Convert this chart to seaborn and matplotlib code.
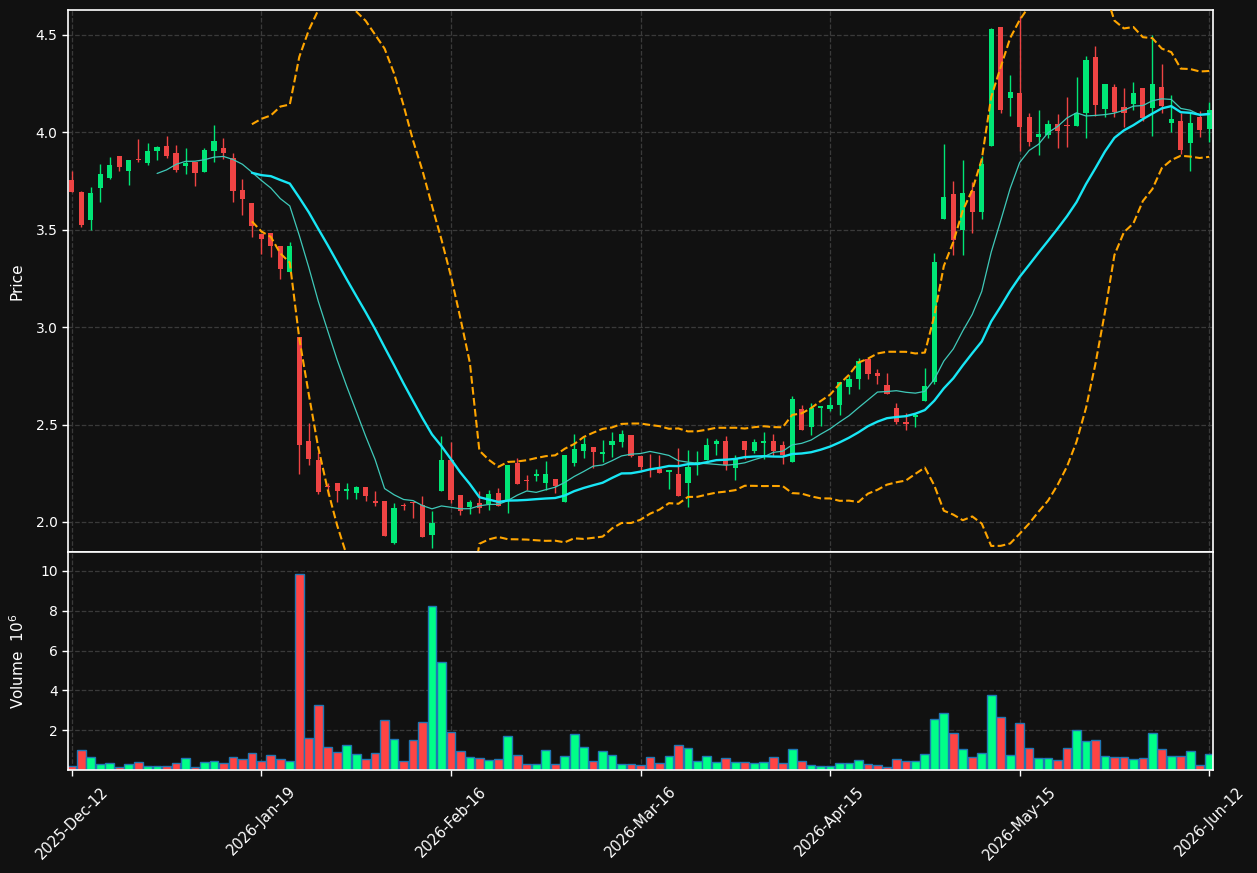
import numpy as np
import pandas as pd
import matplotlib
matplotlib.use("Agg")
import matplotlib.pyplot as plt
import seaborn as sns

# OHLC, one entry per trading bar
opens = [3.755, 3.693, 3.551, 3.714, 3.765, 3.878, 3.803, 3.863, 3.844, 3.906,
         3.930, 3.894, 3.829, 3.847, 3.798, 3.906, 3.919, 3.868, 3.703, 3.636,
         3.477, 3.485, 3.415, 3.283, 2.952, 2.417, 2.319, 2.183, 2.200, 2.161,
         2.147, 2.181, 2.110, 2.110, 1.894, 2.086, 2.104, 2.089, 1.935, 2.158,
         2.320, 2.140, 2.079, 2.099, 2.094, 2.151, 2.111, 2.301, 2.216, 2.238,
         2.199, 2.223, 2.101, 2.301, 2.363, 2.387, 2.351, 2.394, 2.409, 2.449,
         2.341, 2.295, 2.272, 2.255, 2.248, 2.198, 2.293, 2.317, 2.400, 2.414,
         2.276, 2.414, 2.362, 2.405, 2.414, 2.397, 2.307, 2.579, 2.488, 2.583,
         2.579, 2.603, 2.695, 2.736, 2.836, 2.766, 2.703, 2.584, 2.512, 2.538,
         2.621, 2.721, 3.557, 3.683, 3.498, 3.697, 3.593, 3.930, 4.542, 4.176,
         4.200, 4.078, 3.977, 3.986, 4.041, 4.036, 4.032, 4.100, 4.388, 4.120,
         4.233, 4.129, 4.144, 4.226, 4.123, 4.231, 4.048, 4.059, 3.946, 4.081,
         4.017]
highs = [3.803, 3.700, 3.720, 3.835, 3.871, 3.878, 3.858, 3.966, 3.945, 3.928,
         3.979, 3.935, 3.918, 3.847, 3.921, 4.038, 3.969, 3.892, 3.763, 3.636,
         3.477, 3.485, 3.415, 3.439, 2.952, 2.508, 2.358, 2.202, 2.200, 2.199,
         2.187, 2.181, 2.161, 2.110, 2.098, 2.098, 2.104, 2.134, 2.056, 2.440,
         2.411, 2.140, 2.111, 2.161, 2.163, 2.175, 2.295, 2.327, 2.241, 2.272,
         2.312, 2.223, 2.346, 2.454, 2.437, 2.387, 2.421, 2.462, 2.471, 2.449,
         2.341, 2.350, 2.345, 2.269, 2.378, 2.371, 2.366, 2.433, 2.424, 2.443,
         2.343, 2.414, 2.424, 2.464, 2.453, 2.414, 2.645, 2.603, 2.609, 2.595,
         2.641, 2.717, 2.752, 2.843, 2.836, 2.784, 2.764, 2.609, 2.562, 2.562,
         2.789, 3.383, 3.941, 3.752, 3.858, 3.745, 3.877, 4.538, 4.542, 4.295,
         4.599, 4.100, 4.116, 4.065, 4.096, 4.180, 4.286, 4.394, 4.445, 4.250,
         4.250, 4.226, 4.259, 4.226, 4.500, 4.352, 4.191, 4.100, 4.100, 4.109,
         4.156]
lows = [3.695, 3.516, 3.500, 3.640, 3.758, 3.800, 3.731, 3.846, 3.830, 3.856,
        3.866, 3.794, 3.784, 3.726, 3.798, 3.849, 3.863, 3.645, 3.578, 3.465,
        3.377, 3.362, 3.249, 3.283, 2.245, 2.295, 2.142, 2.137, 2.105, 2.117,
        2.120, 2.106, 2.080, 1.926, 1.887, 2.063, 2.021, 1.921, 1.866, 2.158,
        2.098, 2.034, 2.041, 2.046, 2.063, 2.080, 2.046, 2.197, 2.166, 2.209,
        2.166, 2.149, 2.101, 2.289, 2.329, 2.277, 2.307, 2.334, 2.385, 2.334,
        2.269, 2.231, 2.250, 2.169, 2.131, 2.079, 2.240, 2.317, 2.343, 2.269,
        2.216, 2.321, 2.355, 2.321, 2.338, 2.298, 2.307, 2.472, 2.447, 2.493,
        2.572, 2.550, 2.655, 2.681, 2.733, 2.707, 2.655, 2.503, 2.472, 2.487,
        2.621, 2.707, 3.557, 3.368, 3.368, 3.485, 3.557, 3.930, 4.100, 4.085,
        3.904, 3.928, 3.884, 3.973, 3.920, 3.926, 4.032, 3.972, 4.085, 4.078,
        4.081, 4.030, 4.116, 4.058, 3.983, 4.100, 4.000, 3.891, 3.803, 3.977,
        3.953]
closes = [3.695, 3.523, 3.688, 3.786, 3.832, 3.823, 3.858, 3.856, 3.904, 3.925,
          3.880, 3.806, 3.842, 3.792, 3.909, 3.955, 3.894, 3.700, 3.659, 3.520,
          3.455, 3.417, 3.298, 3.415, 2.393, 2.321, 2.156, 2.179, 2.161, 2.171,
          2.181, 2.132, 2.096, 1.926, 2.074, 2.080, 2.099, 1.921, 1.995, 2.320,
          2.111, 2.055, 2.104, 2.070, 2.146, 2.084, 2.295, 2.197, 2.211, 2.248,
          2.248, 2.183, 2.346, 2.377, 2.402, 2.358, 2.358, 2.418, 2.454, 2.337,
          2.281, 2.290, 2.250, 2.269, 2.131, 2.284, 2.307, 2.393, 2.414, 2.295,
          2.326, 2.369, 2.409, 2.414, 2.362, 2.345, 2.631, 2.472, 2.583, 2.595,
          2.603, 2.717, 2.733, 2.826, 2.762, 2.747, 2.659, 2.514, 2.502, 2.551,
          2.697, 3.334, 3.670, 3.447, 3.688, 3.593, 3.836, 4.533, 4.114, 4.209,
          4.028, 3.952, 3.990, 4.041, 4.005, 4.032, 4.100, 4.370, 4.142, 4.250,
          4.105, 4.100, 4.200, 4.072, 4.250, 4.133, 4.067, 3.909, 4.050, 4.010,
          4.116]
# volume in millions
volumes = [0.18, 0.98, 0.63, 0.28, 0.33, 0.13, 0.28, 0.38, 0.22, 0.22,
           0.22, 0.33, 0.58, 0.17, 0.38, 0.43, 0.33, 0.63, 0.53, 0.83,
           0.43, 0.73, 0.53, 0.43, 9.85, 1.63, 3.25, 1.18, 0.88, 1.28,
           0.78, 0.53, 0.83, 2.53, 1.58, 0.43, 1.53, 2.43, 8.23, 5.43,
           1.93, 0.93, 0.63, 0.58, 0.48, 0.53, 1.73, 0.73, 0.28, 0.28,
           0.98, 0.28, 0.68, 1.83, 1.18, 0.43, 0.93, 0.73, 0.28, 0.28,
           0.23, 0.63, 0.33, 0.68, 1.28, 1.13, 0.43, 0.68, 0.38, 0.58,
           0.38, 0.38, 0.33, 0.38, 0.63, 0.33, 1.03, 0.43, 0.23, 0.18,
           0.18, 0.33, 0.33, 0.48, 0.28, 0.23, 0.13, 0.53, 0.43, 0.43,
           0.78, 2.58, 2.88, 1.88, 1.08, 0.63, 0.83, 3.78, 2.68, 0.73,
           2.38, 1.13, 0.58, 0.58, 0.48, 1.13, 2.03, 1.48, 1.53, 0.68,
           0.63, 0.63, 0.53, 0.58, 1.88, 1.03, 0.68, 0.68, 0.93, 0.23,
           0.78]
tick_labels = ["2025-Dec-12", "2026-Jan-19", "2026-Feb-16", "2026-Mar-16",
               "2026-Apr-15", "2026-May-15", "2026-Jun-12"]

df = pd.DataFrame({"open": opens, "high": highs, "low": lows,
                   "close": closes, "volume": volumes})
df["idx"] = np.arange(len(df))
df["dir"] = np.where(df["close"] >= df["open"], "up", "down")
df["ma10"] = df["close"].rolling(10).mean()
df["ma20"] = df["close"].rolling(20).mean()
std20 = df["close"].rolling(20).std()
df["bb_up"] = df["ma20"] + 2 * std20
df["bb_lo"] = df["ma20"] - 2 * std20

bg = "#111111"
sns.set_theme(style="darkgrid", rc={
    "figure.facecolor": bg, "axes.facecolor": bg, "axes.edgecolor": "white",
    "axes.labelcolor": "white", "xtick.color": "white", "ytick.color": "white",
    "text.color": "white", "grid.color": "#3a3a3a", "grid.linestyle": "--",
    "grid.linewidth": 0.9, "axes.linewidth": 1.2,
    "xtick.bottom": True, "ytick.left": True,
})
plt.rcParams["font.family"] = ["DejaVu Sans"]

fig = plt.figure(figsize=(12.57, 8.73), dpi=100)
ax = fig.add_axes([0.0541, 0.3677, 0.9109, 0.62085])
axv = fig.add_axes([0.0541, 0.11798, 0.9109, 0.24971], sharex=ax)

candle_col = {"up": "#00e676", "down": "#ef4444"}
vol_col = {"up": "#00ff88", "down": "#ff4444"}
cols = df["dir"].map(candle_col)

# candles: wicks then bodies
ax.vlines(df["idx"], df["low"], df["high"], colors=cols, linewidth=1.0, zorder=2)
body = (df["close"] - df["open"]).abs().clip(lower=0.005)
ax.bar(df["idx"], body, bottom=df[["open", "close"]].min(axis=1),
       width=0.55, color=cols, linewidth=0, zorder=3)

sns.lineplot(data=df, x="idx", y="ma10", ax=ax, color="#3fc9b9", linewidth=0.9, zorder=4)
sns.lineplot(data=df, x="idx", y="ma20", ax=ax, color="#18e6f5", linewidth=1.7, zorder=4)
sns.lineplot(data=df, x="idx", y="bb_up", ax=ax, color="#ffa500", linewidth=1.5,
             linestyle="--", zorder=4)
sns.lineplot(data=df, x="idx", y="bb_lo", ax=ax, color="#ffa500", linewidth=1.5,
             linestyle="--", zorder=4)

sns.barplot(data=df, x="idx", y="volume", hue="dir", palette=vol_col,
            native_scale=True, dodge=False, width=0.92, errorbar=None,
            saturation=1, edgecolor="#1f77b4", linewidth=1.0, legend=False, ax=axv)

ax.set_xlim(-0.4, 120.4)
ax.set_ylim(1.846, 4.628)
axv.set_ylim(0, 10.95)
ax.set_yticks([2.0, 2.5, 3.0, 3.5, 4.0, 4.5])
ax.set_yticklabels(["2.0", "2.5", "3.0", "3.5", "4.0", "4.5"])
axv.set_yticks([2, 4, 6, 8, 10])
axv.set_xticks(np.arange(0, 121, 20))
axv.set_xticklabels(tick_labels, rotation=45, ha="center")
ax.tick_params(axis="x", labelbottom=False, length=0)
for a in (ax, axv):
    a.tick_params(axis="y", labelsize=10, length=4, width=1)
    a.grid(True, color="#3a3a3a", linestyle="--", linewidth=0.9)
    for s in a.spines.values():
        s.set_color("white")
        s.set_linewidth(1.2)
axv.tick_params(axis="x", labelsize=10.5, length=4, width=1, pad=6)
ax.set_xlabel("")
axv.set_xlabel("")
ax.set_ylabel("Price", fontsize=11)
axv.set_ylabel("Volume  $10^6$", fontsize=11)
ax.yaxis.set_label_coords(-0.0384, 0.5)
axv.yaxis.set_label_coords(-0.0358, 0.5)

fig.savefig("out.png", dpi=100, facecolor=bg)
